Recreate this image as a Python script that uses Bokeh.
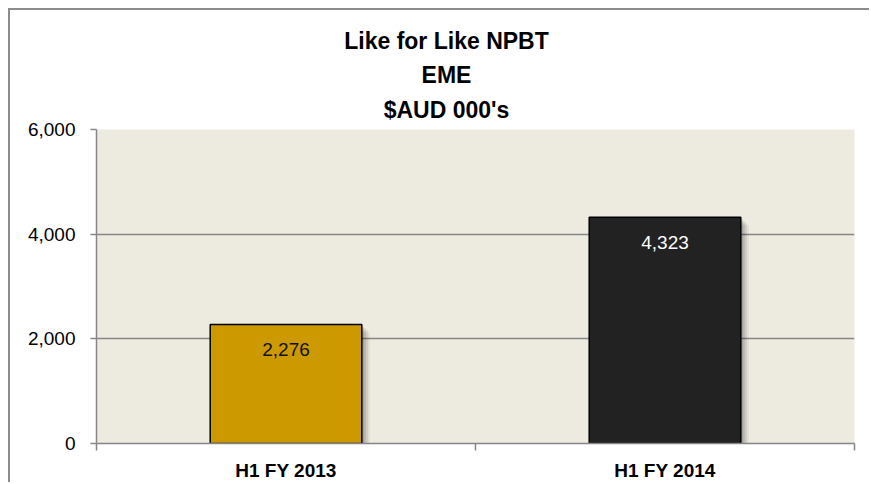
from bokeh.plotting import figure
from bokeh.models import (Range1d, FixedTicker, NumeralTickFormatter, ColumnDataSource, Title)
from bokeh.transform import dodge
from bokeh.core.properties import value
from bokeh.embed import file_html
from bokeh.resources import INLINE

# ---- data ----
categories = ["H1 FY 2013", "H1 FY 2014"]
npbt = [2276, 4323]
bar_colors = ["#CC9900", "#222222"]
label_colors = ["#111111", "#FFFFFF"]
y_ticks = [0, 2000, 4000, 6000]
title_lines = ["Like for Like NPBT", "EME", "$AUD 000's"]

FONT = "Liberation Sans"
GRAY = "#868686"

# Liberation Sans Bold advance widths (per 1000 em) for centering the title lines
BOLD_W = {" ": 278, "$": 556, "'": 238, "0": 556, "A": 722, "B": 722, "D": 722,
          "E": 667, "L": 611, "M": 833, "N": 722, "P": 667, "T": 611, "U": 722,
          "e": 556, "f": 333, "i": 278, "k": 556, "o": 611, "r": 389, "s": 556}

centers = [i + 0.5 for i in range(len(categories))]
bounds = [float(i) for i in range(len(categories) + 1)]

src = ColumnDataSource(dict(
    x=centers, top=npbt, color=bar_colors, tcolor=label_colors,
    label=[f"{v:,}" for v in npbt],
))

W, H = 861, 474
OFF = 10  # page offset of the canvas (margin + border)
ML, MR, MT, MB = 96 - OFF, 17, 129 - OFF, 41
FW = W - ML - MR
FH = H - MT - MB

p = figure(width=W, height=H, output_backend="svg", toolbar_location=None,
           x_range=Range1d(0, len(categories)), y_range=Range1d(0, 6000),
           min_border_left=ML, min_border_right=MR, min_border_top=MT,
           min_border_bottom=MB)
p.background_fill_color = "#EDEAE0"
p.border_fill_color = "white"
p.outline_line_color = None
p.styles = {"margin-left": "8px", "margin-top": "8px",
            "border-left": "2px solid #8C8C8C", "border-top": "2px solid #8C8C8C"}

# title lines (added nearest-to-frame first)
TSIZE = 23
TCENTER = 446 - 96  # title centre, relative to the frame's left edge
for txt, so in zip(reversed(title_lines), [14, 0, 12]):
    w = sum(BOLD_W.get(ch, 556) for ch in txt) * TSIZE / 1000
    p.add_layout(Title(text=txt, align="left", offset=TCENTER - w / 2,
                       text_font=FONT, text_font_size=f"{TSIZE}px",
                       text_font_style="bold", text_color="black",
                       standoff=so), "above")

# grid
p.xgrid.visible = False
p.ygrid.ticker = y_ticks
p.ygrid.grid_line_color = GRAY
p.ygrid.grid_line_width = 1.5

# bar shadows
px_x = len(categories) / FW
px_y = 6000 / FH
for k, a in [(8, 0.06), (6, 0.08), (4, 0.10), (2, 0.14)]:
    p.vbar(x=dodge("x", k * px_x), top=dodge("top", -k * px_y), bottom=0,
           width=0.4, source=src, fill_color="black", fill_alpha=a, line_color=None)

# bars
p.vbar(x="x", top="top", bottom=0, width=0.4, source=src,
       fill_color="color", line_color="black", line_width=1.5)

# value labels
p.text(x="x", y="top", text="label", source=src, text_color="tcolor",
       text_align="center", text_baseline="alphabetic", y_offset=25,
       text_font=value(FONT), text_font_size="19px")

# y axis
ya = p.yaxis[0]
ya.ticker = y_ticks
ya.formatter = NumeralTickFormatter(format="0,0")
ya.major_label_text_font = FONT
ya.major_label_text_font_size = "19px"
ya.major_label_text_color = "black"
ya.axis_line_color = GRAY
ya.axis_line_width = 1.5
ya.major_tick_line_color = GRAY
ya.major_tick_line_width = 1.5
ya.major_tick_out = 6
ya.major_tick_in = 0
ya.minor_tick_line_color = None
ya.major_label_standoff = 15

# x axis
xa = p.xaxis[0]
xa.ticker = FixedTicker(ticks=centers, minor_ticks=bounds)
xa.major_label_overrides = {c: cat for c, cat in zip(centers, categories)}
xa.major_tick_line_color = None
xa.major_tick_out = 0
xa.major_tick_in = 0
xa.minor_tick_out = 7
xa.minor_tick_in = 0
xa.minor_tick_line_color = GRAY
xa.minor_tick_line_width = 1.5
xa.axis_line_color = GRAY
xa.axis_line_width = 1.5
xa.major_label_text_font = FONT
xa.major_label_text_font_size = "19px"
xa.major_label_text_font_style = "bold"
xa.major_label_text_color = "black"
xa.major_label_standoff = 9

open("out.html", "w").write(file_html(p, INLINE))
